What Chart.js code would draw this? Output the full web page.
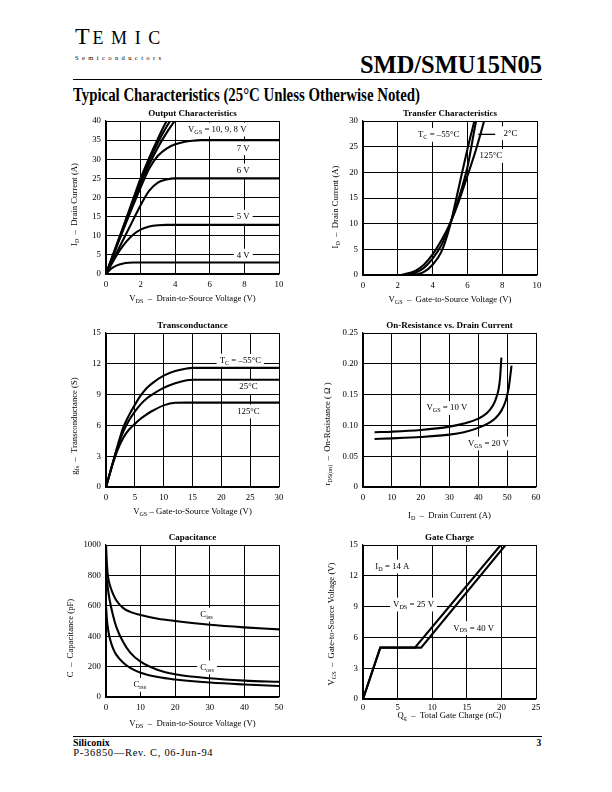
<!DOCTYPE html>
<html><head><meta charset="utf-8">
<script src="https://cdn.jsdelivr.net/npm/chart.js@4.4.1/dist/chart.umd.min.js"></script>
<style>
body{margin:0;width:612px;height:792px;position:relative;background:#fff;font-family:"Liberation Serif","Times New Roman",serif;color:#000;overflow:hidden}
.abs{position:absolute;white-space:nowrap;line-height:1;transform-origin:0 0}
.rule{position:absolute;background:#000}
canvas{position:absolute}
</style></head><body>
<div class="abs" style="left:75px;top:24px;font-size:24px">T</div>
<div class="abs" id="emic" style="left:92.5px;top:29.2px;font-size:18px;letter-spacing:7.6px">EMIC</div>
<div class="abs" id="semi" style="left:75px;top:55px;font-size:6.5px;letter-spacing:3.4px">Semiconductors</div>
<div class="abs fit" data-w="182" data-r="541.7" style="top:51.5px;font-size:26px;font-weight:bold">SMD/SMU15N05</div>
<div class="rule" style="left:73px;top:78.7px;width:469px;height:1.3px"></div>
<div class="abs fit" data-w="347" data-l="73" style="top:86px;font-size:18.5px;font-weight:bold">Typical Characteristics (25°C Unless Otherwise Noted)</div>
<div class="rule" style="left:73px;top:736px;width:469px;height:1.3px"></div>
<div class="abs fit" data-w="36.7" data-l="73" style="top:738.5px;font-size:9.5px;font-weight:bold">Siliconix</div>
<div class="abs" style="left:536.5px;top:738.5px;font-size:9.5px;font-weight:bold">3</div>
<div class="abs" id="pnum" style="left:73.3px;top:747.6px;font-size:10.5px;font-weight:normal">P-36850—Rev. C, 06-Jun-94</div>

<script>
// ---------- DATA ----------
// Output Characteristics (VDS V, ID A)
const outX10 = [0,0.5,1,1.5,2,2.5,3,3.5,4];
const outY10 = [0,6.2,12.4,18.7,25,30.4,35.4,40,44];
const outX9  = [0,0.5,1,1.5,2,2.5,3,3.5,4,4.5];
const outY9  = [0,6.1,12.2,18.3,24.4,29.7,34.4,38.5,42,45];
const outX8  = [0,0.5,1,1.5,2,2.5,3,3.5,4,4.5];
const outY8  = [0,6,11.9,17.8,23.6,28.7,33.1,36.9,40.2,43];
const outX7  = [0,0.5,1,1.5,2,2.5,3,3.5,4,4.5,5,5.5,6,10];
const outY7  = [0,5.8,11.6,17.2,22.6,27.6,30.9,32.8,33.9,34.5,34.85,35,35,35];
const outX6  = [0,0.5,1,1.5,2,2.5,3,3.5,4,10];
const outY6  = [0,4.5,9,13.5,18,21.8,23.9,24.7,25,25];
const outX5  = [0,0.4,0.8,1.2,1.6,2,2.5,3,3.5,10];
const outY5  = [0,3.2,6.2,8.6,10.4,11.6,12.4,12.75,12.85,12.85];
const outX4  = [0,0.3,0.6,1,1.3,1.6,10];
const outY4  = [0,1.4,2.2,2.75,2.95,3,3];
const outXTicks = [0,2,4,6,8,10];
const outYTicks = [0,5,10,15,20,25,30,35,40];

// Transfer Characteristics (VGS V, ID A)
const trXm55 = [2.9,3.5,4,4.5,5,5.5,6,6.4,6.6];
const trYm55 = [0,0.6,2,4.5,9.6,17,24.5,30,33];
const trX25  = [2.5,3,3.5,4,4.5,5,5.5,6,6.5,6.7];
const trY25  = [0,0.45,1.4,3.2,5.8,9.9,14.9,21,30,33];
const trX125 = [2.2,3,3.5,4,4.5,5,5.5,6,6.5,7,7.2];
const trY125 = [0,0.8,2,4,6.7,10,14.3,19.3,24.5,30.5,33];
const trXTicks = [0,2,4,6,8,10];
const trYTicks = [0,5,10,15,20,25,30];

// Transconductance (VGS V, gfs S)
const gfX    = [0,1,2,3,4,5,6,7,8,10,12,14,15,30];
const gfYm55 = [0,2.0,4.0,5.8,7.0,8.0,8.9,9.6,10.1,10.85,11.3,11.55,11.6,11.6];
const gfY25  = [0,2.0,3.9,5.4,6.5,7.35,8.05,8.6,9.0,9.65,10.1,10.4,10.45,10.45];
const gfY125 = [0,1.95,3.6,4.8,5.6,6.15,6.65,7.05,7.4,7.95,8.2,8.22,8.22,8.22];
const gfXTicks = [0,5,10,15,20,25,30];
const gfYTicks = [0,3,6,9,12,15];

// On-Resistance vs Drain Current (ID A, rDS(on) ohm)
const ronX10 = [4,10,20,30,35,40,43,45,46,47,47.5,48];
const ronY10 = [0.089,0.0898,0.0925,0.098,0.103,0.111,0.120,0.132,0.142,0.158,0.175,0.21];
const ronX20 = [4,10,20,30,35,40,44,46,48,49.5,50.5,51,51.5];
const ronY20 = [0.078,0.079,0.0812,0.085,0.089,0.096,0.105,0.112,0.124,0.140,0.160,0.177,0.197];
const ronXTicks = [0,10,20,30,40,50,60];
const ronYTicks = [0,0.05,0.10,0.15,0.20,0.25];
const ronYTickLabels = ['0','0.05','0.10','0.15','0.20','0.25'];

// Capacitance (VDS V, C pF)
const capX    = [0,0.3,0.6,1,2,3,5,7,10,15,20,30,40,50];
const capCiss = [1000,860,790,745,680,635,585,560,540,515,500,475,458,445];
const capCoss = [810,760,705,645,540,460,360,292,232,178,150,123,108,100];
const capCrss = [600,500,445,395,322,277,226,192,160,131,115,95,82,72];
const capXTicks = [0,10,20,30,40,50];
const capYTicks = [0,200,400,600,800,1000];

// Gate Charge (Qg nC, VGS V)
const gcX25 = [0,2.5,7.5,19.9];
const gcY25 = [0,5,5,15];
const gcX40 = [0,2.5,8.4,20.6];
const gcY40 = [0,5,5,15];
const gcXTicks = [0,5,10,15,20,25];
const gcYTicks = [0,3,6,9,12,15];

// ---------- RENDERING ----------
const FONT = '"Liberation Serif","Times New Roman",serif';
const ML = 50, MT = 20, MR = 12, MB = 36;

function pts(xs, ys){ return xs.map((x,i)=>({x, y: ys[i]})); }

function parseRich(str){
  const parts=[]; const re=/_\{([^}]*)\}/g; let last=0, m;
  while((m=re.exec(str))){ if(m.index>last) parts.push({t:str.slice(last,m.index),sub:false}); parts.push({t:m[1],sub:true}); last=re.lastIndex; }
  if(last<str.length) parts.push({t:str.slice(last),sub:false});
  return parts;
}
function drawRich(ctx, str, x, y, o){
  o = o||{};
  const size=o.size||8.8, weight=o.weight||'normal', align=o.align||'center';
  const parts=parseRich(str);
  let w=0;
  for(const p of parts){ ctx.font=`${weight} ${p.sub?size*0.7:size}px ${FONT}`; p.w=ctx.measureText(p.t).width; w+=p.w; }
  let sx = align==='center' ? x-w/2 : (align==='right' ? x-w : x);
  if(o.bgOnly){ ctx.fillStyle='#fff'; const pad=o.pad==null?3:o.pad; ctx.fillRect(sx-pad, y-size*0.62-1, w+2*pad, size*1.35+2); return; }
  ctx.fillStyle='#000'; ctx.textBaseline='alphabetic'; ctx.textAlign='left';
  const base = y + size*0.33;
  for(const p of parts){ ctx.font=`${weight} ${p.sub?size*0.7:size}px ${FONT}`; ctx.fillText(p.t, sx, p.sub? base+size*0.2 : base); sx+=p.w; }
}

const sheetPlugin = {
  id:'sheet',
  beforeDatasetsDraw(chart, args, opts){
    const ctx=chart.ctx, xs=chart.scales.x, ys=chart.scales.y;
    for(const a of (opts.labels||[])) if(a.bg!==false) drawRich(ctx, a.text, xs.getPixelForValue(a.x), ys.getPixelForValue(a.y), {bgOnly:true, align:a.align, pad:a.pad});
  },
  afterDatasetsDraw(chart, args, opts){
    const ctx=chart.ctx, xs=chart.scales.x, ys=chart.scales.y;
    ctx.save();
    for(const l of (opts.lines||[])){
      ctx.strokeStyle='#000'; ctx.lineWidth=1.3; ctx.beginPath();
      ctx.moveTo(xs.getPixelForValue(l.x1), ys.getPixelForValue(l.y1));
      ctx.lineTo(xs.getPixelForValue(l.x2), ys.getPixelForValue(l.y2)); ctx.stroke();
    }
    for(const a of (opts.labels||[])) drawRich(ctx, a.text, xs.getPixelForValue(a.x), ys.getPixelForValue(a.y), {align:a.align});
    ctx.restore();
  },
  afterDraw(chart, args, opts){
    const ctx=chart.ctx, ca=chart.chartArea;
    ctx.save();
    const cx=(ca.left+ca.right)/2, cy=(ca.top+ca.bottom)/2;
    drawRich(ctx, opts.title, cx, ca.top-7.5, {weight:'bold', size:9});
    drawRich(ctx, opts.xTitle, cx, ca.bottom+opts.xTitleDy, {size:8.7});
    ctx.translate(ca.left-opts.yTitleDx, cy+opts.yTitleDy); ctx.rotate(-Math.PI/2);
    drawRich(ctx, opts.yTitle, 0, 0, {size:8.7});
    ctx.restore();
  }
};

function makeChart(cfg){
  const [l,t,r,b]=cfg.rect;
  const pw=Math.round(r-l), ph=Math.round(b-t);
  const W=pw+ML+MR, H=ph+MT+MB;
  const cv=document.createElement('canvas');
  cv.width=W; cv.height=H;
  cv.style.left=Math.round(l-ML)+'px'; cv.style.top=Math.round(t-MT)+'px';
  cv.style.width=W+'px'; cv.style.height=H+'px';
  document.body.appendChild(cv);
  const tickFont={family:FONT, size:8.8};
  const gridOpt={color:'#000', lineWidth:1, drawTicks:false};
  new Chart(cv, {
    type:'line',
    data:{datasets: cfg.series.map(s=>({data:pts(s[0],s[1]), borderColor:'#000', borderWidth:2.1, pointRadius:0, fill:false,
      cubicInterpolationMode: cfg.straight?'default':'monotone', tension: 0}))},
    options:{
      responsive:false, animation:false, devicePixelRatio:1,
      layout:{padding:{left:0, top:MT, right:MR, bottom:0}},
      plugins:{legend:{display:false}, tooltip:{enabled:false},
        sheet:{title:cfg.title, xTitle:cfg.xTitle, yTitle:cfg.yTitle, xTitleDy:cfg.xTitleDy, yTitleDx:cfg.yTitleDx, yTitleDy:cfg.yTitleDy, labels:cfg.labels, lines:cfg.lines||[]}},
      scales:{
        x:{type:'linear', min:cfg.xTicks[0], max:cfg.xTicks[cfg.xTicks.length-1],
          afterBuildTicks:s=>{s.ticks=cfg.xTicks.map(v=>({value:v}));},
          ticks:{font:tickFont, color:'#000', padding:cfg.xPad||5, maxRotation:0, autoSkip:false, callback:(v,i)=>String(cfg.xTicks[i])},
          grid:gridOpt, border:{color:'#000', width:1.2},
          afterFit:s=>{s.height=MB;}},
        y:{type:'linear', min:cfg.yTicks[0], max:cfg.yTicks[cfg.yTicks.length-1],
          afterBuildTicks:s=>{s.ticks=cfg.yTicks.map(v=>({value:v}));},
          ticks:{font:tickFont, color:'#000', padding:5, autoSkip:false, callback:(v,i)=>(cfg.yLabels?cfg.yLabels[i]:String(cfg.yTicks[i]))},
          grid:gridOpt, border:{color:'#000', width:1.2},
          afterFit:s=>{s.width=ML;}}
      }
    },
    plugins:[sheetPlugin]
  });
}

makeChart({rect:[105.5,121,278,274], title:'Output Characteristics',
  xTicks:outXTicks, yTicks:outYTicks,
  xTitle:'V_{DS}  –  Drain-to-Source Voltage (V)', yTitle:'I_{D}  –  Drain Current (A)', xTitleDy:24, yTitleDx:32, yTitleDy:7,
  series:[[outX10,outY10],[outX9,outY9],[outX8,outY8],[outX7,outY7],[outX6,outY6],[outX5,outY5],[outX4,outY4]],
  labels:[{x:6.43,y:37.9,text:'V_{GS} = 10, 9, 8 V'},{x:7.93,y:33,text:'7 V'},{x:7.93,y:27.2,text:'6 V'},{x:7.93,y:15.1,text:'5 V'},{x:7.93,y:4.9,text:'4 V'}]});

makeChart({rect:[363,121,537,275], title:'Transfer Characteristics',
  xTicks:trXTicks, yTicks:trYTicks,
  xTitle:'V_{GS}  –  Gate-to-Source Voltage (V)', yTitle:'I_{D}  –  Drain Current (A)', xTitleDy:24, yTitleDx:28, yTitleDy:9,
  series:[[trXm55,trYm55],[trX25,trY25],[trX125,trY125]],
  lines:[{x1:6.62,y1:27.4,x2:7.6,y2:27.4}],
  labels:[{x:4.35,y:27.4,text:'T_{C} = –55°C'},{x:8.47,y:27.7,text:'2°C', pad:2},{x:7.35,y:23.3,text:'125°C'}]});

makeChart({rect:[105.5,333,278,487], title:'Transconductance',
  xTicks:gfXTicks, yTicks:gfYTicks,
  xTitle:'V_{GS} – Gate-to-Source Voltage (V)', yTitle:'g_{fs}  –  Transconductance (S)', xTitleDy:24, yTitleDx:32, yTitleDy:16,
  series:[[gfX,gfYm55],[gfX,gfY25],[gfX,gfY125]],
  labels:[{x:23.3,y:12.35,text:'T_{C} = –55°C'},{x:24.7,y:9.8,text:'25°C'},{x:24.7,y:7.4,text:'125°C'}]});

makeChart({rect:[363,333,536,487], title:'On-Resistance vs. Drain Current',
  xTicks:ronXTicks, yTicks:ronYTicks, yLabels:ronYTickLabels,
  xTitle:'I_{D}  –  Drain Current (A)', yTitle:'r_{DS(on)}  –  On-Resistance ( Ω )', xTitleDy:28, yTitleDx:36, yTitleDy:24,
  series:[[ronX10,ronY10],[ronX20,ronY20]],
  labels:[{x:29.1,y:0.129,text:'V_{GS} = 10 V'},{x:43.5,y:0.0714,text:'V_{GS} = 20 V'}]});

makeChart({rect:[105.5,545,278,697], title:'Capacitance',
  xTicks:capXTicks, yTicks:capYTicks,
  xTitle:'V_{DS}  –  Drain-to-Source Voltage (V)', yTitle:'C  –  Capacitance (pF)', xTitleDy:26, yTitleDx:36, yTitleDy:17,
  series:[[capX,capCiss],[capX,capCoss],[capX,capCrss]],
  labels:[{x:29.05,y:545,text:'C_{iss}'},{x:29.2,y:198,text:'C_{oss}'},{x:9.75,y:83.5,text:'C_{rss}'}]});

makeChart({rect:[363,545,536,699], title:'Gate Charge', straight:true, xPad:3,
  xTicks:gcXTicks, yTicks:gcYTicks,
  xTitle:'Q_{g}  –  Total Gate Charge (nC)', yTitle:'V_{GS}  –  Gate-to-Source Voltage (V)', xTitleDy:16, yTitleDx:32, yTitleDy:2,
  series:[[gcX25,gcY25],[gcX40,gcY40]],
  labels:[{x:1.78,y:12.95,text:'I_{D} = 14 A', align:'left'},{x:7.3,y:9.25,text:'V_{DS} = 25 V'},{x:16.0,y:6.95,text:'V_{DS} = 40 V'}]});

// fit header/footer text widths
document.querySelectorAll('.fit').forEach(el=>{
  const w=el.getBoundingClientRect().width; const target=parseFloat(el.dataset.w);
  el.style.transform=`scaleX(${target/w})`;
  if(el.dataset.r) el.style.left=(parseFloat(el.dataset.r)-target)+'px';
  else el.style.left=el.dataset.l+'px';
});
// spread the footer reference text to its width using letter spacing
(function(){
  const el=document.getElementById('pnum');
  const w=el.getBoundingClientRect().width; const n=el.textContent.length;
  el.style.letterSpacing=((140-w)/n)+'px';
})();
</script>
</body></html>
